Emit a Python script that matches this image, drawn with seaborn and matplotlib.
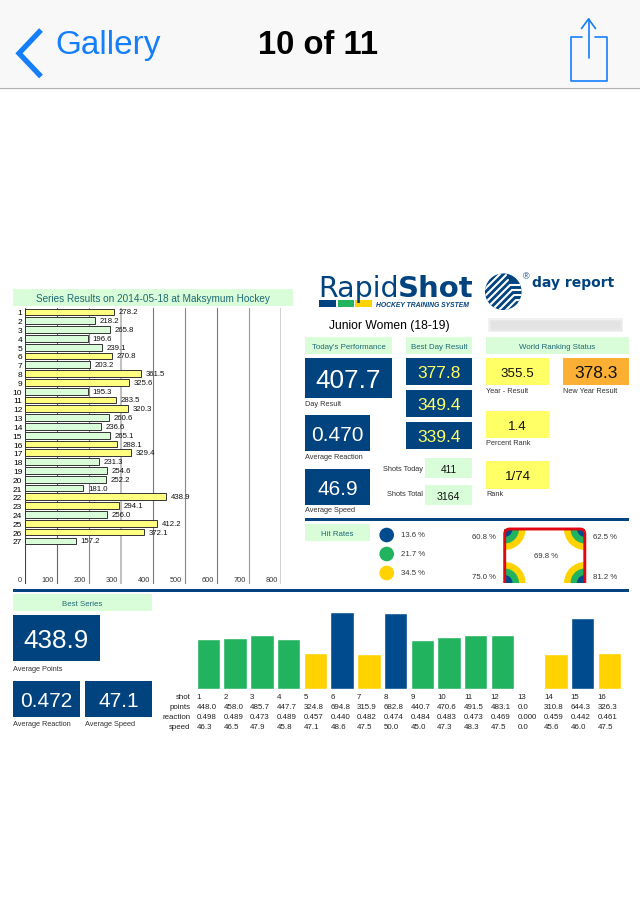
import matplotlib
matplotlib.use('Agg')
import matplotlib.pyplot as plt
from matplotlib.patches import Rectangle, Circle, Wedge, PathPatch
from matplotlib.path import Path
from matplotlib.transforms import blended_transform_factory
import seaborn as sns

# series results
series_labels = [str(i) for i in range(1, 28)]
series_values = [278.2, 218.2, 265.8, 196.6, 239.1, 270.8, 203.2, 361.5, 325.6, 195.3,
                 283.5, 320.3, 260.6, 236.6, 265.1, 288.1, 329.4, 231.3, 254.6, 252.2,
                 181.0, 438.9, 294.1, 256.0, 412.2, 372.1, 157.2]
series_ticks = [0, 100, 200, 300, 400, 500, 600, 700, 800]

# best series shots
shot_labels = [str(i) for i in range(1, 17)]
shot_points = [448.0, 458.0, 485.7, 447.7, 324.8, 694.8, 315.9, 682.8,
               440.7, 470.6, 491.5, 483.1, 0.0, 310.8, 644.3, 326.3]
shot_reaction = [0.498, 0.489, 0.473, 0.489, 0.457, 0.440, 0.482, 0.474,
                 0.484, 0.483, 0.473, 0.469, 0.000, 0.459, 0.442, 0.461]
shot_speed = [46.3, 46.5, 47.9, 45.8, 47.1, 48.6, 47.5, 50.0,
              45.0, 47.3, 48.3, 47.5, 0.0, 45.6, 46.0, 47.5]

# hit rates
hit_legend = ['13.6 %', '21.7 %', '34.5 %']

BLUE = '#00437f'
BAR_BLUE = '#004b8d'
BAR_GREEN = '#22b35e'
BAR_YELLOW = '#ffd200'
PALE = '#d9fdd9'
TEAL = '#1c6a72'
YELLOW = '#ffff66'
ORANGE = '#fbb034'
RED = '#e2060f'
IOS = '#157efb'

sns.set_style('white')
plt.rcParams['font.family'] = ['Liberation Sans', 'DejaVu Sans']

W, H = 640, 920
fig = plt.figure(figsize=(W / 100, H / 100), dpi=100)
fig.patch.set_facecolor('white')

# page axes in pixels, for the panels around the charts
page = fig.add_axes([0, 0, 1, 1])
page.set_xlim(0, W)
page.set_ylim(H, 0)
page.axis('off')


def px_axes(x0, x1, y0, y1):
    ax = fig.add_axes([x0 / W, 1 - y1 / H, (x1 - x0) / W, (y1 - y0) / H])
    ax.patch.set_alpha(0)
    return ax


def box(x0, y0, x1, y1, color, text=None, size=10, tcolor='white'):
    page.add_patch(Rectangle((x0, y0), x1 - x0, y1 - y0, fc=color, ec='none'))
    if text is not None:
        page.text((x0 + x1) / 2, (y0 + y1) / 2, text, color=tcolor, fontsize=size,
                  ha='center', va='center_baseline')


def label(x, y, text, size=5.3, ha='left', color='#333333'):
    page.text(x, y, text, fontsize=size, ha=ha, va='center', color=color)


### NAV BAR
box(0, 0, W, 88, '#f8f8f8')
page.plot([0, W], [88.5, 88.5], color='#b2b2b2', lw=0.9)
page.plot([41, 19, 41], [31, 54.3, 77.5], color=IOS, lw=3.8, solid_joinstyle='miter',
          solid_capstyle='butt')
page.text(55, 45.5, 'Gallery', color=IOS, fontsize=24, ha='left', va='center')
page.text(317.5, 45, '10 of 11', color='black', fontsize=23.6, fontweight='bold',
          ha='center', va='center')
page.plot([582, 571, 571, 607, 607, 595], [37.5, 37.5, 82, 82, 37.5, 37.5], color=IOS, lw=1.2)
page.plot([588.5, 588.5], [20, 59], color=IOS, lw=1.2)
page.plot([581.5, 588.5, 595.5], [29.5, 20, 29.5], color=IOS, lw=1.2)

### LOGO
page.text(318, 297, 'Rapid', color=BLUE, fontsize=20.5, family='DejaVu Sans', va='baseline')
page.text(398, 297, 'Shot', color=BLUE, fontsize=21, family='DejaVu Sans',
          fontweight='bold', va='baseline')
box(319, 301, 336, 307.5, BLUE)
box(337.5, 301, 354, 307.5, BAR_GREEN)
box(355, 301, 372, 307.5, BAR_YELLOW)
page.text(376, 305.3, 'HOCKEY TRAINING SYSTEM', color=BLUE, fontsize=4.9, fontweight='bold',
          fontstyle='italic', va='center')

globe = Circle((503.3, 292.7), 18.3, fc=BLUE, ec='none')
page.add_patch(globe)
# stripes go up to the right, the lower ones bend off to the right edge
for k in range(-5, 6):
    c = 796 + 7 * k
    y_bend = 286 + 5 * k
    x_bend = c - y_bend
    xs = [c - 320, x_bend]
    ys = [320, y_bend]
    if k >= 0:
        xs.append(530)
        ys.append(y_bend)
    line, = page.plot(xs, ys, color='white', lw=1.5, solid_joinstyle='miter')
    line.set_clip_path(globe)
page.text(525.7, 277, '®', color=BLUE, fontsize=6.5, ha='center', va='center')
page.text(532, 283, 'day report', color=BLUE, fontsize=10, family='DejaVu Sans',
          fontweight='bold', va='center')

page.text(389, 326, 'Junior Women (18-19)', color='black', fontsize=8.7, ha='center', va='center')
# blurred out name, soft edges from nested boxes
for inset in [0, 1.5, 3]:
    page.add_patch(Rectangle((488 + inset, 319 + inset), 135 - 2 * inset, 14 - 2 * inset,
                             fc='#dcdcdc', ec='none', alpha=0.4))

### SERIES RESULTS
box(13, 290, 293, 306.7, PALE, 'Series Results on 2014-05-18 at Maksymum Hockey', 7.2, TEAL)

ax1 = px_axes(25.3, 281.3, 309, 585)
grid_colors = ['#444444', '#666666', '#888888', '#b5b5b5', '#777777', '#888888', '#777777', '#999999', '#cccccc']
grid_widths = [0.8, 0.8, 0.8, 1.2, 0.8, 0.8, 0.8, 0.8, 1.3]
for t, c, w in zip(series_ticks, grid_colors, grid_widths):
    ax1.axvline(t, color=c, lw=w, zorder=0)
series_group = ['high' if v >= 270 else 'low' for v in series_values]
sns.barplot(x=series_values, y=series_labels, hue=series_group, dodge=False, orient='h',
            palette={'high': '#ffff80', 'low': '#d9fdd9'}, legend=False, width=0.76, saturation=1,
            edgecolor='#333333', linewidth=0.7, ax=ax1, zorder=2)
ax1.set_xlim(0, 800)
ax1.set_ylim(30.9, -0.45)
ax1.set_xticks([])
ax1.tick_params(axis='y', length=0, pad=2.2, labelsize=6, labelcolor='black')
ax1.set_xlabel('')
ax1.set_ylabel('')
sns.despine(ax=ax1, left=True, bottom=True)
for i, v in enumerate(series_values):
    ax1.text(v + 14.5, i, f'{v:.1f}', fontsize=5.6, va='center', ha='left', color='#111111', zorder=3)
for t in series_ticks:
    ax1.text(t - 10 if t else -16, 30.34, str(t), fontsize=5.3, va='center', ha='right' if t else 'center',
             color='#333333', zorder=3)

### TODAY'S PERFORMANCE
box(305, 338.3, 392, 355, PALE, "Today's Performance", 5.7, TEAL)
box(305, 359, 392, 398.7, BLUE, '407.7', 18.8)
label(305, 404.3, 'Day Result')
box(305, 416, 370, 452, BLUE, '0.470', 15)
label(305, 457.3, 'Average Reaction')
box(305, 470, 370, 505.7, BLUE, '46.9', 15)
label(305, 510.7, 'Average Speed')

### BEST DAY RESULT
box(406, 338.3, 472, 355, PALE, 'Best Day Result', 5.7, TEAL)
box(406, 359, 472, 385.7, BLUE, '377.8', 12.5, YELLOW)
box(406, 391, 472, 418, BLUE, '349.4', 12.5, YELLOW)
box(406, 423, 472, 449.7, BLUE, '339.4', 12.5, YELLOW)
label(423, 470, 'Shots Today', ha='right')
box(425, 459.3, 472, 479, PALE, '411', 7.2, '#111111')
label(423, 494.7, 'Shots Total', ha='right')
box(425, 486, 472, 505.7, PALE, '3164', 7.7, '#111111')

### WORLD RANKING
box(486, 338.3, 629, 355, PALE, 'World Ranking Status', 5.7, TEAL)
box(486, 359, 549, 385.7, YELLOW, '355.5', 9.6, '#111111')
label(486, 392, 'Year - Result')
box(563, 359, 629, 385.7, ORANGE, '378.3', 12.5, '#111111')
label(563, 392, 'New Year Result')
box(486, 412, 549, 439, YELLOW, '1.4', 9.6, '#111111')
label(486, 443.5, 'Percent Rank')
box(486, 462, 549, 489.7, YELLOW, '1/74', 9.6, '#111111')
label(486, 494.7, 'Rank')

### HIT RATES
box(305, 519.3, 629, 522.2, BLUE)
box(13, 590, 629, 592.8, BLUE)
box(305, 525, 370, 541.7, PALE, 'Hit Rates', 5.7, TEAL)
for y, c, t in zip([536, 555, 574], [BAR_BLUE, BAR_GREEN, BAR_YELLOW], hit_legend):
    page.add_patch(Circle((386.7, y), 7.3, fc=c, ec='none'))
    label(401, y - 0.5, t, size=5.6)

# corner rings, the page y axis runs downward so angles are mirrored
corners = [(504.5, 530, 0, 90), (585, 530, 90, 180), (504.5, 584, 270, 360), (585, 584, 180, 270)]
for cx, cy, a0, a1 in corners:
    for r, c in zip([21, 14.5, 8], [BAR_YELLOW, BAR_GREEN, BAR_BLUE]):
        page.add_patch(Wedge((cx, cy), r, a0, a1, fc=c, ec='none', zorder=2))
goal = Path([(504.7, 584), (504.7, 535), (504.7, 530), (510, 530), (580, 530),
             (584.8, 530), (584.8, 535), (584.8, 584)],
            [Path.MOVETO, Path.LINETO, Path.CURVE3, Path.CURVE3, Path.LINETO,
             Path.CURVE3, Path.CURVE3, Path.LINETO])
page.add_patch(PathPatch(goal, fc='none', ec=RED, lw=2.1, capstyle='butt', zorder=3))
label(496, 537.7, '60.8 %', size=5.6, ha='right')
label(592.7, 537.7, '62.5 %', size=5.6)
label(496, 577.7, '75.0 %', size=5.6, ha='right')
label(592.7, 577.7, '81.2 %', size=5.6)
label(546, 557, '69.8 %', size=5.6, ha='center')

### BEST SERIES
box(13, 595, 152, 612, PALE, 'Best Series', 5.7, TEAL)
box(13, 616, 100, 661.7, BLUE, '438.9', 18.8)
label(13, 669.3, 'Average Points')
box(13, 682, 80, 717.7, BLUE, '0.472', 15)
label(13, 725, 'Average Reaction')
box(85, 682, 152, 717.7, BLUE, '47.1', 15)
label(85, 725, 'Average Speed')

pitch = 26.72
first = 208.5
ax2 = px_axes(first - 0.5 * pitch, first + 15.5 * pitch, 600, 689.6)
shot_group = ['blue' if p >= 600 else 'green' if p >= 400 else 'yellow' for p in shot_points]
sns.barplot(x=shot_labels, y=shot_points, hue=shot_group, dodge=False, width=0.88, saturation=1,
            palette={'blue': BAR_BLUE, 'green': BAR_GREEN, 'yellow': BAR_YELLOW},
            legend=False, ax=ax2)
ax2.set_xlim(-0.5, 15.5)
ax2.set_ylim(0, 89.6 / 0.11)
ax2.axis('off')

# table under the bars
tr = blended_transform_factory(ax2.transData, page.transData)
rows = [('shot', shot_labels),
        ('points', [f'{v:.1f}' for v in shot_points]),
        ('reaction', [f'{v:.3f}' for v in shot_reaction]),
        ('speed', [f'{v:.1f}' for v in shot_speed])]
for y, (name, cells) in zip([697.7, 707.6, 717.5, 727.2], rows):
    label(190.3, y, name, size=5.7, ha='right', color='#222222')
    for i, c in enumerate(cells):
        page.text(i - 0.44, y, c, transform=tr, fontsize=5.7, ha='left', va='center', color='#222222')

fig.savefig('out.png', dpi=100)
